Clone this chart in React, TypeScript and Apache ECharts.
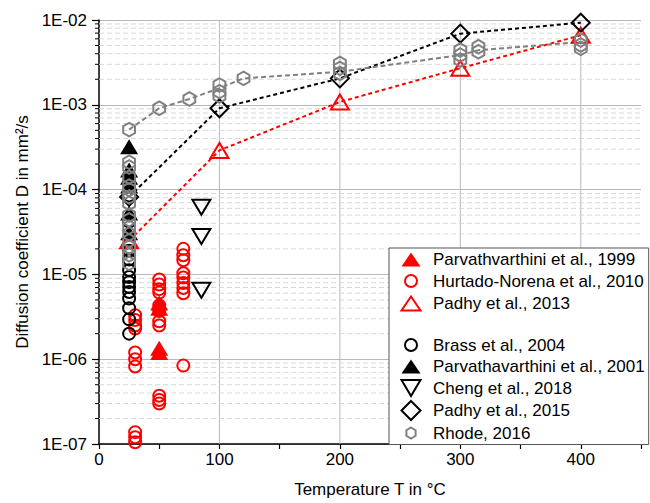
import React, { useEffect, useRef } from 'react';
import * as echarts from 'echarts';

// ---------- data (T in °C, D in mm²/s) ----------
const parv1999: [number, number][] = [[50, 4.6e-6], [50, 4.0e-6], [50, 1.35e-6], [50, 1.2e-6]];
const hurtado2010: [number, number][] = [
  [30, 3.3e-6], [30, 2.9e-6], [30, 2.5e-6], [30, 2.3e-6], [30, 1.2e-6], [30, 1.0e-6], [30, 8.2e-7],
  [30, 1.38e-7], [30, 1.2e-7], [30, 1.05e-7],
  [50, 8.7e-6], [50, 7.6e-6], [50, 6.7e-6], [50, 6.1e-6], [50, 4.3e-6], [50, 3.7e-6], [50, 2.8e-6],
  [50, 2.5e-6], [50, 3.7e-7], [50, 3.3e-7], [50, 3.0e-7],
  [70, 2.0e-5], [70, 1.68e-5], [70, 1.47e-5], [70, 1.03e-5], [70, 9.2e-6], [70, 7.9e-6], [70, 6.9e-6],
  [70, 6.0e-6], [70, 8.4e-7],
];
const padhy2013: [number, number][] = [[25, 2.5e-5], [100, 2.9e-4], [200, 1.08e-3], [300, 2.7e-3], [400, 6.6e-3]];
const brass2004: [number, number][] = [
  [25, 1.2e-4], [25, 8.5e-5], [25, 4.2e-5], [25, 1.9e-5], [25, 1.5e-5], [25, 1.12e-5], [25, 9.3e-6],
  [25, 8.1e-6], [25, 7.1e-6], [25, 6.2e-6], [25, 5.2e-6], [25, 4.0e-6], [25, 2.95e-6], [25, 2.0e-6],
];
const parv2001: [number, number][] = [[25, 3.2e-4], [25, 1.7e-4], [25, 1.4e-4], [25, 1.1e-4], [25, 5.3e-5], [25, 3.1e-5]];
const cheng2018: [number, number][] = [[85, 6.2e-5], [85, 2.8e-5], [85, 6.5e-6]];
const padhy2015: [number, number][] = [[25, 8.2e-5], [100, 9.1e-4], [200, 2.05e-3], [300, 6.9e-3], [400, 9.3e-3]];
const rhode2016: [number, number][] = [
  [25, 5.1e-4], [25, 2.1e-4], [25, 1.85e-4], [25, 1.4e-4], [25, 1.1e-4], [25, 1.0e-4], [25, 8.2e-5],
  [25, 6.9e-5], [25, 5.0e-5], [25, 4.4e-5], [25, 3.6e-5], [25, 3.0e-5], [25, 2.5e-5], [25, 2.1e-5],
  [25, 1.7e-5], [25, 1.35e-5],
  [50, 9.1e-4], [75, 1.17e-3], [100, 1.71e-3], [100, 1.43e-3], [100, 1.27e-3], [120, 2.05e-3],
  [200, 3.08e-3], [200, 2.69e-3], [200, 2.35e-3], [300, 4.42e-3], [300, 3.86e-3], [300, 3.37e-3],
  [315, 4.84e-3], [315, 4.22e-3], [400, 5.8e-3], [400, 5.07e-3], [400, 4.63e-3],
];
const rhodeTrend: [number, number][] = [
  [25, 5.1e-4], [50, 9.1e-4], [75, 1.17e-3], [100, 1.57e-3], [120, 2.05e-3], [200, 2.45e-3],
  [300, 3.86e-3], [315, 4.4e-3], [400, 5.5e-3],
];

const X_MIN = 0, X_MAX = 450, Y_MIN = 1e-7, Y_MAX = 1e-2;
const majorX = [100, 200, 300, 400];
const minorMultipliers = [2, 3, 4, 5, 6, 7, 8, 9];
const decadeExps = [-7, -6, -5, -4, -3];

const FONT = "'Liberation Sans', Arial, sans-serif";
const FS = 17;
const CLEAR = 'rgba(0,0,0,0)';
const RED = '#ff0000';
const GRAY = '#808080';

// symbols (20x20 box so that symbolSize 20 is 1:1)
const BOX = 'M-10,-10M10,10';
const S_CIRCLE = `path://${BOX}M-6,0A6,6,0,1,1,6,0A6,6,0,1,1,-6,0Z`;
const S_TRI = `path://${BOX}M0,-7.5L9,7.5L-9,7.5Z`;
const S_TRI_DOWN = `path://${BOX}M-9,-7.5L9,-7.5L0,7.5Z`;
const S_DIAMOND = `path://${BOX}M0,-9L9,0L0,9L-9,0Z`;
const S_HEX = `path://${BOX}M0,-6.8L5.9,-3.4L5.9,3.4L0,6.8L-5.9,3.4L-5.9,-3.4Z`;
// legend icons (27x20 box, shape centred at x=10)
const LBOX = 'M-10,-10M17,10';
const L_CIRCLE = `path://${LBOX}M-6,0A6,6,0,1,1,6,0A6,6,0,1,1,-6,0Z`;
const L_TRI = `path://${LBOX}M0,-7L9.5,7L-9.5,7Z`;
const L_TRI_DOWN = `path://${LBOX}M-9.5,-8L9.5,-8L0,8Z`;
const L_DIAMOND = `path://${LBOX}M0,-9.5L9.5,0L0,9.5L-9.5,0Z`;
const L_HEX = `path://${LBOX}M0,-5.5L4.6,-2.75L4.6,2.75L0,5.5L-4.6,2.75L-4.6,-2.75Z`;

function fmtExp(v: number) {
  const e = Math.round(Math.log10(v));
  return '1E' + (e < 0 ? '-' : '+') + String(Math.abs(e)).padStart(2, '0');
}

export default function App() {
  const ref = useRef<HTMLDivElement>(null);
  useEffect(() => {
    document.body.style.margin = '0';
    const chart = echarts.init(ref.current!, null, { renderer: 'svg' });

    const gridData: number[][] = [];
    majorX.forEach((x) => gridData.push([x, 1e-4, 0]));
    decadeExps.forEach((e) => minorMultipliers.forEach((m) => gridData.push([0, m * Math.pow(10, e), 1])));

    const scatterBase = { type: 'scatter', symbolSize: 20, z: 3 };
    const open = (c: string) => ({ color: CLEAR, borderColor: c, borderWidth: 2, opacity: 1 });
    const filled = (c: string) => ({ color: c, borderWidth: 0, opacity: 1 });

    const option: any = {
      animation: false,
      textStyle: { fontFamily: FONT, color: '#000' },
      grid: { left: 99, right: 9, top: 20, bottom: 59, containLabel: false },
      xAxis: {
        type: 'value', min: X_MIN, max: X_MAX, interval: 50,
        name: 'Temperature T in °C', nameLocation: 'middle', nameGap: 37,
        nameTextStyle: { fontSize: FS, color: '#000', fontFamily: FONT },
        axisLine: { show: true, onZero: false, lineStyle: { color: '#000', width: 1.5 } },
        axisTick: { show: true, inside: false, length: 5, lineStyle: { color: '#000', width: 1.2 } },
        axisLabel: {
          fontSize: FS, color: '#000', fontFamily: FONT, margin: 7,
          formatter: (v: number) => (v % 100 === 0 && v <= 400 ? String(v) : ''),
        },
        splitLine: { show: false },
      },
      yAxis: {
        type: 'log', logBase: 10, min: Y_MIN, max: Y_MAX, splitNumber: 5,
        name: 'Diffusion coefficient D in mm²/s', nameLocation: 'middle', nameGap: 67,
        nameTextStyle: { fontSize: FS, color: '#000', fontFamily: FONT },
        axisLine: { show: true, onZero: false, lineStyle: { color: '#000', width: 1.5 } },
        axisTick: { show: true, inside: false, length: 7, lineStyle: { color: '#000', width: 1.2 } },
        axisLabel: { fontSize: FS, color: '#000', fontFamily: FONT, margin: 12, formatter: fmtExp },
        splitLine: { show: true, lineStyle: { color: '#b8b8b8', width: 1 } },
      },
      legend: {
        orient: 'vertical', left: 389, top: 248,
        padding: [1.5, 4, 0.5, 11],
        itemWidth: 27, itemHeight: 20, itemGap: 0.5,
        backgroundColor: '#fff', borderColor: '#555', borderWidth: 1, borderRadius: 0,
        textStyle: { fontSize: FS, color: '#000', fontFamily: FONT },
        selectedMode: false,
        data: [
          { name: 'Parvathvarthini et al., 1999', icon: L_TRI, itemStyle: filled(RED) },
          { name: 'Hurtado-Norena et al., 2010', icon: L_CIRCLE, itemStyle: open(RED) },
          { name: 'Padhy et al., 2013', icon: L_TRI, itemStyle: open(RED) },
          { name: ' ', icon: 'none' },
          { name: 'Brass et al., 2004', icon: L_CIRCLE, itemStyle: open('#000') },
          { name: 'Parvathavarthini et al., 2001', icon: L_TRI, itemStyle: filled('#000') },
          { name: 'Cheng et al., 2018', icon: L_TRI_DOWN, itemStyle: open('#000') },
          { name: 'Padhy et al., 2015', icon: L_DIAMOND, itemStyle: open('#000') },
          { name: 'Rhode, 2016', icon: L_HEX, itemStyle: open(GRAY) },
        ],
      },
      series: [
        {
          type: 'custom', name: 'grid', z: 1, silent: true, clip: false,
          data: gridData,
          renderItem: (_p: any, api: any) => {
            const x = api.value(0), y = api.value(1), kind = api.value(2);
            if (kind === 0) {
              const p0 = api.coord([x, Y_MIN]);
              const p1 = api.coord([x, Y_MAX]);
              return { type: 'line', shape: { x1: p0[0], y1: p0[1], x2: p1[0], y2: p1[1] }, style: { stroke: '#b8b8b8', lineWidth: 1 } };
            }
            const a = api.coord([X_MIN, y]);
            const b = api.coord([X_MAX, y]);
            return {
              type: 'group',
              children: [
                { type: 'line', shape: { x1: a[0], y1: a[1], x2: b[0], y2: b[1] }, style: { stroke: '#d8d8d8', lineWidth: 1, lineDash: [5, 3] } },
                { type: 'line', shape: { x1: a[0] - 4, y1: a[1], x2: a[0], y2: a[1] }, style: { stroke: '#000', lineWidth: 1 } },
              ],
            };
          },
        },
        { ...scatterBase, name: ' ', data: [] },
        { ...scatterBase, name: 'Hurtado-Norena et al., 2010', data: hurtado2010, symbol: S_CIRCLE, itemStyle: open(RED) },
        { ...scatterBase, name: 'Parvathvarthini et al., 1999', data: parv1999, symbol: S_TRI, itemStyle: filled(RED) },
        {
          type: 'line', name: 'Padhy et al., 2013', data: padhy2013, symbol: S_TRI, symbolSize: 20, z: 3,
          showSymbol: true, showAllSymbol: true,
          lineStyle: { color: RED, width: 2, type: [4, 3] },
          itemStyle: open(RED),
        },
        { ...scatterBase, name: 'Brass et al., 2004', data: brass2004, symbol: S_CIRCLE, itemStyle: open('#000') },
        { ...scatterBase, name: 'Parvathavarthini et al., 2001', data: parv2001, symbol: S_TRI, itemStyle: filled('#000') },
        { ...scatterBase, name: 'Cheng et al., 2018', data: cheng2018, symbol: S_TRI_DOWN, itemStyle: open('#000') },
        {
          type: 'line', name: 'Padhy et al., 2015', data: padhy2015, symbol: S_DIAMOND, symbolSize: 20, z: 3,
          showSymbol: true, showAllSymbol: true,
          lineStyle: { color: '#000', width: 2, type: [4, 3] },
          itemStyle: open('#000'),
        },
        {
          type: 'line', name: 'Rhode trend', data: rhodeTrend, symbol: 'none', z: 3, silent: true,
          lineStyle: { color: GRAY, width: 2, type: [5, 3] },
        },
        { ...scatterBase, name: 'Rhode, 2016', data: rhode2016, symbol: S_HEX, itemStyle: open(GRAY) },
      ],
    };
    chart.setOption(option);
    return () => chart.dispose();
  }, []);
  return <div ref={ref} style={{ position: 'absolute', left: 0, top: 0, width: 650, height: 503 }} />;
}
